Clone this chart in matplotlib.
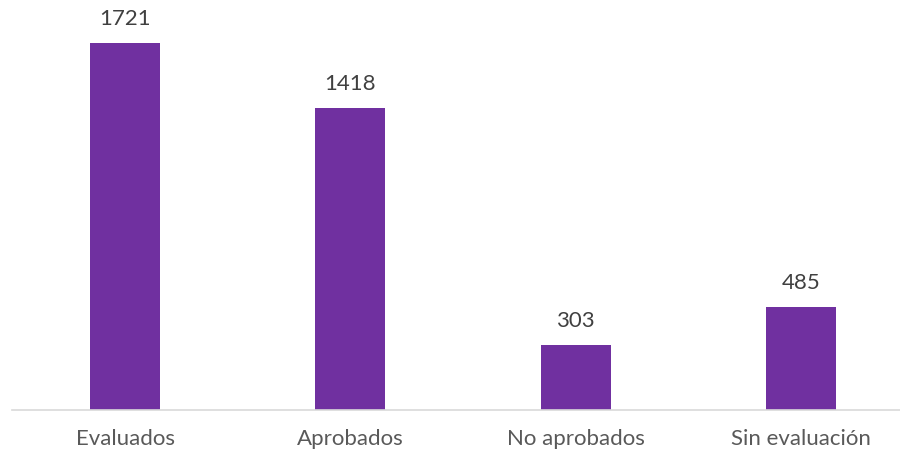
import matplotlib.pyplot as plt

categorias = ['Evaluados', 'Aprobados', 'No aprobados', 'Sin evaluación']
valores = [1721, 1418, 303, 485]

plt.rcParams['font.family'] = ['Lato', 'DejaVu Sans']

fig = plt.figure(figsize=(9, 4.56), dpi=100)
ax = fig.add_axes([12.4 / 900, 45 / 456, 1 - 12.4 / 900, 411 / 456])

x = range(len(categorias))
bars = ax.bar(x, valores, width=0.31, color='#7030A0', zorder=2)

ax.set_xlim(-0.5, 3.44)
ax.set_ylim(0, 1927)

for b, v in zip(bars, valores):
    ax.annotate(str(v), (b.get_x() + b.get_width() / 2, v), xytext=(0, 18),
                textcoords='offset points', ha='center', va='center',
                fontsize=16, color='#404040')

ax.set_xticks(list(x))
ax.set_xticklabels(categorias, fontsize=16, color='#595959')
ax.tick_params(axis='x', length=0, pad=13)
ax.set_yticks([])

for s in ['top', 'right', 'left']:
    ax.spines[s].set_visible(False)
ax.spines['bottom'].set_color('#D9D9D9')
ax.spines['bottom'].set_linewidth(1.2)

fig.savefig('out.png', dpi=100)
